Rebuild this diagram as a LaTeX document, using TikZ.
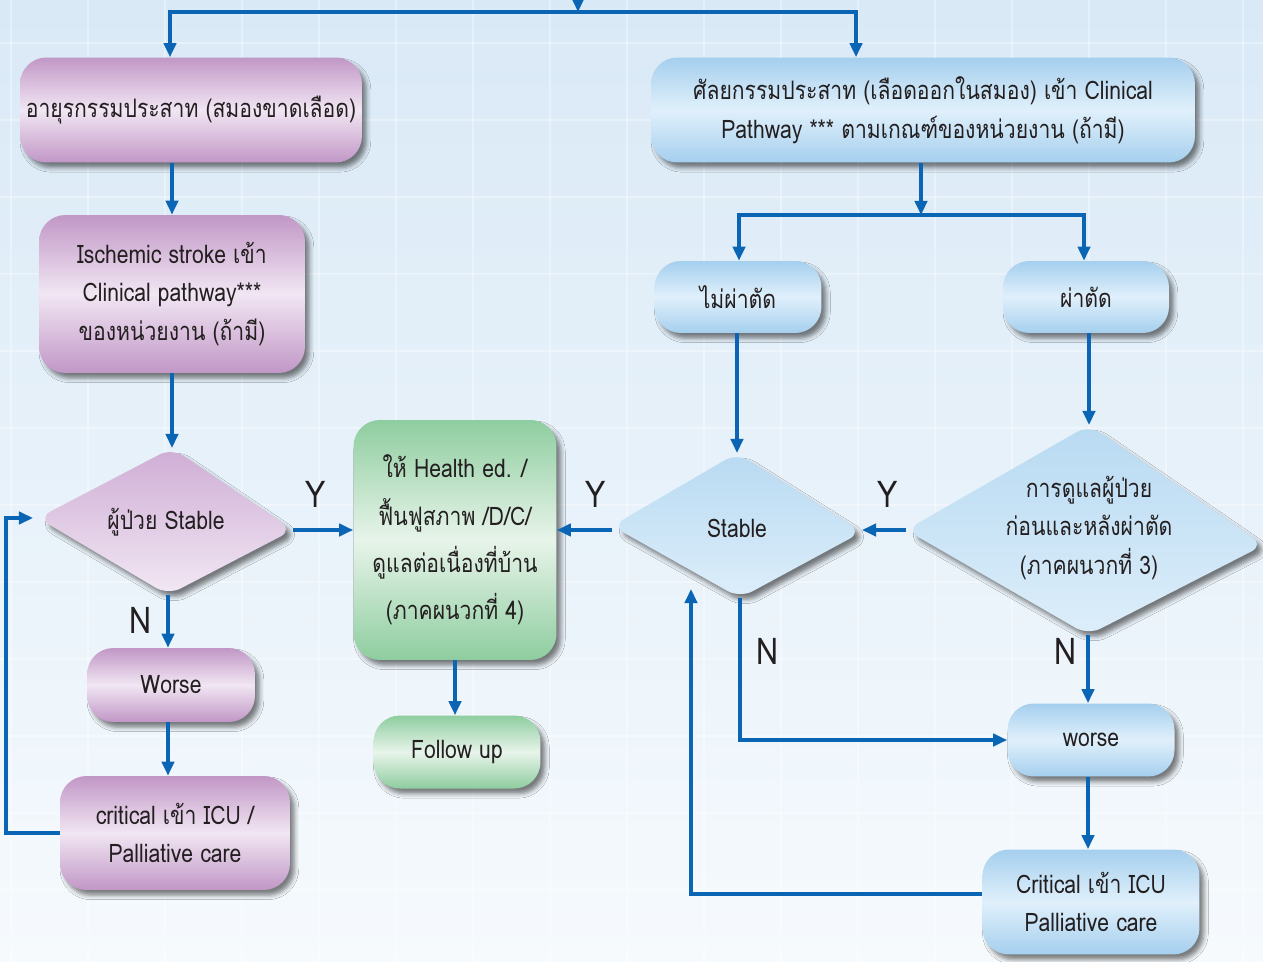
\documentclass[tikz,border=0pt]{standalone}
\usepackage{fontspec}
\setmainfont[Script=Thai,FakeStretch=0.83]{Loma}
\usetikzlibrary{arrows.meta,shadows.blur,calc}
\definecolor{pEdge}{HTML}{C197C6}
\definecolor{pMid}{HTML}{F1E6F3}
\definecolor{pdTop}{HTML}{CFADD5}
\definecolor{pdBot}{HTML}{F2E8F4}
\definecolor{bEdge}{HTML}{A5CFEE}
\definecolor{bMid}{HTML}{E0F0FB}
\definecolor{bdTop}{HTML}{B8DAF2}
\definecolor{bdBot}{HTML}{DDEEFA}
\definecolor{gEdge}{HTML}{8ECD9F}
\definecolor{gMid}{HTML}{E8F4EA}
\definecolor{arrowc}{HTML}{0A66B5}
\definecolor{txt}{HTML}{231F20}
\definecolor{bgtop}{HTML}{D9E9F6}
\definecolor{bgbot}{HTML}{F6FAFD}
\begin{document}
\begin{tikzpicture}[x=0.02cm,y=-0.02cm,
  font=\fontsize{14.5}{22}\selectfont, text=txt,
  shad/.style={blur shadow={shadow xshift=2.5pt,shadow yshift=-3pt,shadow blur radius=2.5pt,shadow opacity=50}},
  box/.style={rounded corners=15pt, align=center, inner sep=0pt, shad},
  pbox/.style={box, top color=pEdge, bottom color=pEdge, middle color=pMid},
  bbox/.style={box, top color=bEdge, bottom color=bEdge, middle color=bMid},
  gbox/.style={box, top color=gEdge, bottom color=gEdge, middle color=gMid},
  pdia/.style={rounded corners=8pt, shad, top color=pdTop, bottom color=pdBot},
  bdia/.style={rounded corners=8pt, shad, top color=bdTop, bottom color=bdBot},
  lbl/.style={align=center, inner sep=0pt},
  arr/.style={draw=arrowc, line width=1.9pt, -{Triangle[length=8pt,width=7pt]}},
  yn/.style={font=\fontsize{21}{21}\selectfont, inner sep=0pt},
  grid/.style={draw=white, line width=1.1pt, opacity=0.35}
]
\useasboundingbox (0,0) rectangle (1263,962);
\shade[top color=bgtop, bottom color=bgbot] (0,0) rectangle (1263,962);
\foreach \gx in {11,88,...,1263} \draw[grid] (\gx,0) -- (\gx,962);
\foreach \gy in {43,120,...,962} \draw[grid] (0,\gy) -- (1263,\gy);

% rectangles
\node[pbox, minimum width=6.84cm, minimum height=2.10cm] (L1) at (191,110) {อายุรกรรมประสาท (สมองขาดเลือด)};
\node[bbox, minimum width=10.88cm, minimum height=2.10cm] (R1) at (923,110) {ศัลยกรรมประสาท (เลือดออกในสมอง) เข้า Clinical\\Pathway *** ตามเกณฑ์ของหน่วยงาน (ถ้ามี)};
\node[pbox, minimum width=5.32cm, minimum height=3.16cm] (L2) at (172,294) {Ischemic stroke เข้า\\Clinical pathway***\\ของหน่วยงาน (ถ้ามี)};
\node[gbox, minimum width=4.06cm, minimum height=4.80cm, font=\fontsize{14.5}{27}\selectfont] (G1) at (455,540) {ให้ Health ed. /\\ฟื้นฟูสภาพ /D/C/\\ดูแลต่อเนื่องที่บ้าน\\(ภาคผนวกที่ 4)};
\node[gbox, minimum width=3.34cm, minimum height=1.46cm] (G2) at (457,752) {Follow up};
\node[pbox, minimum width=3.36cm, minimum height=1.48cm] (L3) at (171,685) {Worse};
\node[pbox, minimum width=4.60cm, minimum height=2.28cm] (L4) at (175,833) {critical เข้า ICU /\\Palliative care};
\node[bbox, minimum width=3.34cm, minimum height=1.44cm] (R2) at (738,297) {ไม่ผ่าตัด};
\node[bbox, minimum width=3.32cm, minimum height=1.44cm] (R3) at (1086,297) {ผ่าตัด};
\node[bbox, minimum width=3.34cm, minimum height=1.46cm] (R4) at (1091,740) {worse};
\node[bbox, minimum width=4.34cm, minimum height=2.10cm] (R5) at (1091,902) {Critical เข้า ICU\\Palliative care};

% diamonds
\coordinate (D1t) at (172,448); \coordinate (D1r) at (293,530);
\coordinate (D1b) at (168,595); \coordinate (D1l) at (38,518);
\path[pdia] ($(D1t)!0.5!(D1r)$) -- (D1r) -- (D1b) -- (D1l) -- (D1t) -- cycle;
\node[lbl] (D1) at (166,522) {ผู้ป่วย Stable};

\coordinate (D2t) at (737,453); \coordinate (D2r) at (862,532);
\coordinate (D2b) at (740,598); \coordinate (D2l) at (612,526);
\path[bdia] ($(D2t)!0.5!(D2r)$) -- (D2r) -- (D2b) -- (D2l) -- (D2t) -- cycle;
\node[lbl] (D2) at (737,528) {Stable};

\coordinate (D3t) at (1089,425); \coordinate (D3r) at (1264,545);
\coordinate (D3b) at (1088,635); \coordinate (D3l) at (906,530);
\path[bdia] ($(D3t)!0.5!(D3r)$) -- (D3r) -- (D3b) -- (D3l) -- (D3t) -- cycle;
\node[lbl] (D3) at (1089,528) {การดูแลผู้ป่วย\\ก่อนและหลังผ่าตัด\\(ภาคผนวกที่ 3)};

% connectors
\coordinate (in) at (578,-6);
\coordinate (j1) at (578,12);
\coordinate (j2) at (921,215);
\coordinate (lx) at (6,0);
\coordinate (ux) at (691,589);
\draw[arr] (in) -- (j1);
\draw[arr] (j1) -| ([xshift=-0.42cm]L1.north);
\draw[arr] (j1) -| ([xshift=-1.34cm]R1.north);
\draw[arr] (L1.south -| L2.north) -- (L2.north);
\draw[arr] (L2.south) -- (D1t);
\draw[arr] (D1r) -- (D1r -| G1.west);
\draw[arr] (D1b) -- (D1b |- L3.north);
\draw[arr] (L3.south -| D1b) -- (L4.north -| D1b);
\draw[arr] (L4.west) -- (L4.west -| lx) |- ([xshift=-0.1cm]D1l);
\draw[arr] (G1.south) -- (G1.south |- G2.north);
\draw[arr] ([yshift=-0.08cm]D2l) -- ([yshift=-0.08cm]D2l -| G1.east);
\draw[arr] (R1.south -| j2) -- (j2);
\draw[arr] (j2) -| ([xshift=0.02cm]R2.north);
\draw[arr] (j2) -| ([xshift=-0.04cm]R3.north);
\draw[arr] (R2.south -| D2t) -- (D2t);
\draw[arr] (R3.south -| D3t) -- (D3t);
\draw[arr] (D3l) -- (D3l -| D2r);
\draw[arr] (D2b) |- (R4.west);
\draw[arr] (D3b) -- (D3b |- R4.north);
\draw[arr] (R4.south -| D3b) -- (R5.north -| D3b);
\draw[arr] ([yshift=0.16cm]R5.west) -| (ux);

% labels
\node[yn] (Y1) at (316,494) {Y};
\node[yn] (Y2) at (596,494) {Y};
\node[yn] (Y3) at (888,494) {Y};
\node[yn] (N1) at (141,620) {N};
\node[yn] (N2) at (768,651) {N};
\node[yn] (N3) at (1066,651) {N};
\end{tikzpicture}
\end{document}
